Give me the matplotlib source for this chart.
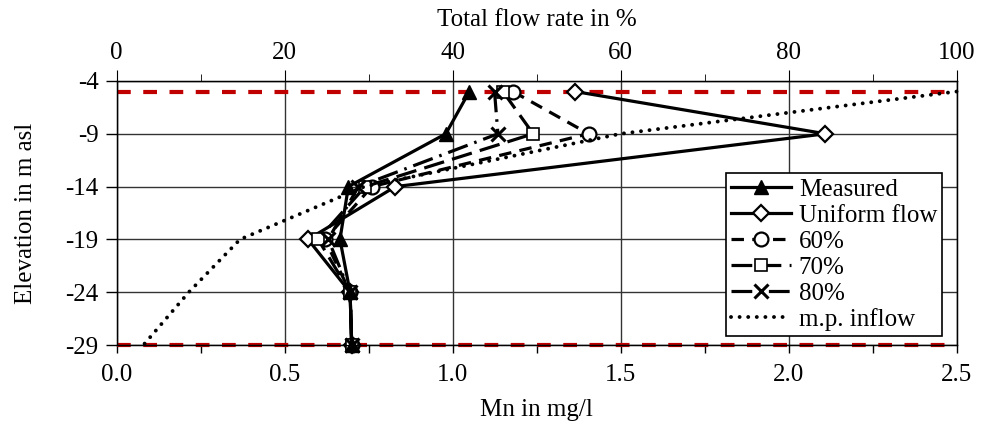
import matplotlib
matplotlib.use("Agg")
import matplotlib.pyplot as plt
import numpy as np

plt.rcParams['font.family'] = ['Liberation Serif', 'DejaVu Serif']
plt.rcParams['axes.unicode_minus'] = False

# elevation of the sampling depths (m asl)
elev = [-5, -9, -14, -19, -24, -29]
# Mn in mg/l
measured = [1.05, 0.98, 0.69, 0.665, 0.695, 0.70]
uniform = [1.365, 2.11, 0.83, 0.57, 0.695, 0.70]
p60 = [1.18, 1.405, 0.76, 0.62, 0.695, 0.70]
p70 = [1.15, 1.24, 0.74, 0.60, 0.695, 0.70]
p80 = [1.125, 1.135, 0.72, 0.63, 0.695, 0.70]
# cumulative inflow in % (top axis)
inflow = [100, 60, 29.5, 14.7, 8.6, 3.2]
# boundaries (red dashed)
bounds = [-5, -29]

fs = 18
lw = 2.3
fig = plt.figure(figsize=(9.91, 4.24), dpi=100)
ax = fig.add_axes([0.1176, 0.1863, 0.8476, 0.6227])

for b in bounds:
    ax.axhline(b, color='#C00000', lw=3, ls=(0, (3.3, 3.0)), zorder=2, clip_on=False)

h = []
h += ax.plot(measured, elev, color='k', lw=lw, marker='^', ms=10, mfc='k', mec='k',
             label='Measured', zorder=6, clip_on=False)
h += ax.plot(uniform, elev, color='k', lw=lw, marker='D', ms=8, mfc='white', mec='k', mew=1.6,
             label='Uniform flow', zorder=5, clip_on=False)
h += ax.plot(p60, elev, color='k', lw=lw, ls=(0, (3.9, 2.6)), marker='o', ms=10, mfc='white',
             mec='k', mew=1.6, label='60%', zorder=5, clip_on=False)
h += ax.plot(p70, elev, color='k', lw=lw, ls=(0, (6.5, 2.6)), marker='s', ms=9, mfc='white',
             mec='k', mew=1.2, label='70%', zorder=5, clip_on=False)
h += ax.plot(p80, elev, color='k', lw=lw, ls=(0, (6.5, 2.2, 0.8, 2.2)), marker='x', ms=10,
             mec='k', mew=2.2, label='80%', zorder=5, clip_on=False)

ax.set_xlim(0, 2.5)
ax.set_ylim(-29, -4)
ax.set_xticks(np.arange(0, 2.51, 0.5))
ax.set_xticks(np.arange(0.25, 2.5, 0.5), minor=True)
ax.set_xticklabels(['0.0', '0.5', '1.0', '1.5', '2.0', '2.5'])
ax.set_yticks([-29, -24, -19, -14, -9, -4])
ax.set_yticklabels(['-29', '-24', '-19', '-14', '-9', '-4'])
ax.tick_params(axis='both', which='both', direction='out', labelsize=fs, width=1, color='k')
ax.tick_params(axis='x', which='both', length=6, pad=8)
ax.tick_params(axis='y', length=8, pad=5)
ax.grid(True, which='major', color='#333333', lw=1.0)
ax.set_axisbelow(True)
ax.set_xlabel('Mn in mg/l', fontsize=fs, labelpad=9)
ax.set_ylabel('Elevation in m asl', fontsize=fs, labelpad=20)
for s in ax.spines.values():
    s.set_linewidth(1.0)

ax2 = ax.twiny()
h += ax2.plot(inflow, elev, color='k', lw=2.8, ls=(0, (0.01, 2.2)), dash_capstyle='round',
              label='m.p. inflow', zorder=4, clip_on=False)
ax2.set_xlim(0, 100)
ax2.set_xticks(np.arange(0, 101, 20))
ax2.set_xticks(np.arange(10, 100, 20), minor=True)
ax2.tick_params(axis='x', which='major', direction='out', length=8, labelsize=fs, pad=4)
ax2.tick_params(axis='x', which='minor', direction='out', length=5)
ax2.set_xlabel('Total flow rate in %', fontsize=fs, labelpad=12)

leg = ax2.legend(handles=h, loc='lower right', bbox_to_anchor=(0.983, 0.034), fontsize=fs,
                 frameon=True, fancybox=False, framealpha=1, edgecolor='k',
                 handlelength=2.4, handletextpad=0.3, labelspacing=0.14, borderpad=0.2,
                 borderaxespad=0)
leg.get_frame().set_linewidth(1.2)

fig.savefig('out.png', dpi=100)
